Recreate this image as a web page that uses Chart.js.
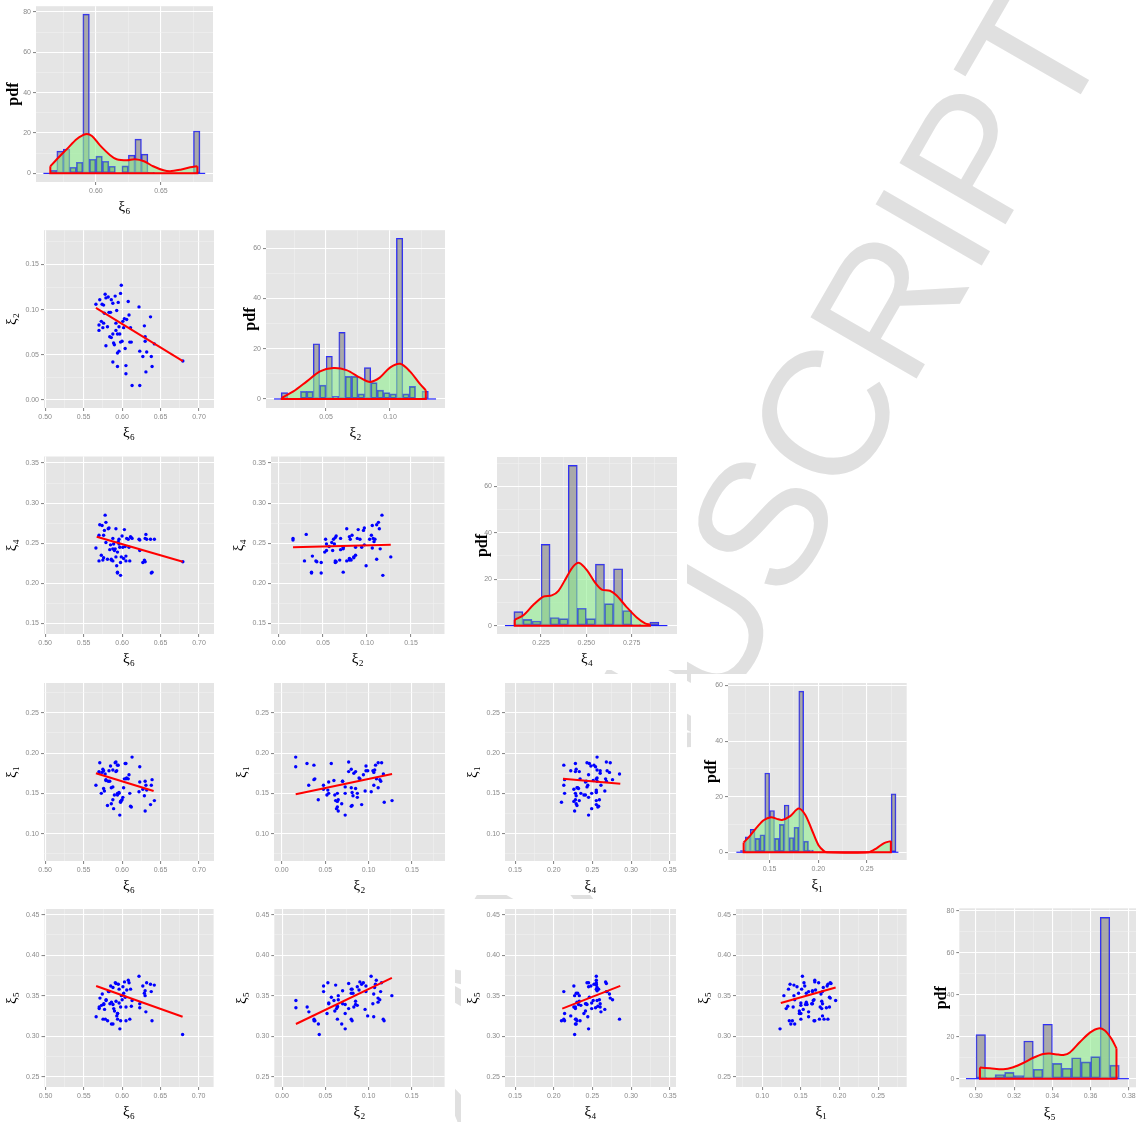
<!DOCTYPE html>
<html>
<head>
<meta charset="utf-8">
<script src="https://cdn.jsdelivr.net/npm/chart.js"></script>
<style>
  body { margin: 0; background: #fff; width: 1136px; height: 1122px; overflow: hidden; position: relative; }
  canvas { position: absolute; background: #fff; }
  #wm { position: absolute; left: 0; top: 0; }
</style>
</head>
<body>
<svg id="wm" width="1136" height="1122">
  <text x="1112" y="40" transform="rotate(-60 1112 40)" text-anchor="end"
        font-family="Liberation Sans, Arial, sans-serif" font-size="178" fill="#E0E0E0">ACCEPTED MANUSCRIPT</text>
</svg>
<script>
// samples (one value per sample and parameter), null = not plotted
const xi6 = [0.566, 0.571, 0.574, 0.576, 0.578, 0.579, 0.582, 0.586, 0.588, 0.591, 0.595, 0.599, 0.598, 0.608, 0.622,
  0.570, 0.570, 0.573, 0.575, 0.576, 0.577, 0.581, 0.583, 0.584, 0.586, 0.588, 0.589, 0.590, 0.592, 0.593,
  0.594, 0.596, 0.597, 0.598, 0.600, 0.601, 0.602, 0.603, 0.606, 0.609, 0.611, 0.610, 0.612, 0.579, 0.588,
  0.594, 0.596, 0.594, 0.604, 0.605, 0.605, 0.613, 0.623, 0.623, 0.627, 0.629, 0.630, 0.630, 0.632, 0.631,
  0.637, 0.638, 0.639, 0.642, 0.679, 0.585, 0.592];
const xi2 = [0.106, 0.111, 0.106, 0.105, 0.117, 0.113, 0.114, 0.111, 0.107, 0.115, 0.108, 0.127, 0.118, 0.109, 0.103,
  0.083, 0.077, 0.087, 0.080, 0.085, 0.096, 0.081, 0.097, 0.070, 0.069, 0.073, 0.063, 0.061, 0.077, 0.099,
  0.073, 0.081, 0.073, 0.064, 0.065, 0.087, 0.080, 0.090, 0.089, 0.094, 0.080, 0.064, 0.064, 0.060, 0.042,
  0.052, 0.054, 0.037, 0.057, 0.038, 0.029, 0.016, 0.016, 0.054, 0.048, 0.082, 0.070, 0.065, 0.053, 0.031,
  0.092, 0.048, 0.037, 0.062, 0.043, 0.097, 0.085];
const xi4 = [0.244, 0.273, 0.272, 0.260, 0.285, 0.276, 0.268, 0.230, 0.256, 0.243, 0.252, 0.233, 0.210, 0.255, 0.255,
  0.260, 0.228, 0.235, 0.229, 0.232, 0.266, 0.230, 0.269, 0.242, 0.229, 0.243, 0.249, 0.241, 0.268, 0.222,
  0.214, 0.255, 0.245, 0.226, 0.259, 0.245, 0.231, 0.267, 0.256, 0.245, 0.258, 0.228, 0.257, 0.251, 0.228,
  0.239, 0.249, 0.213, 0.246, 0.234, 0.228, 0.256, 0.254, 0.241, 0.226, 0.229, 0.256, 0.227, 0.255, 0.261,
  0.255, 0.213, 0.214, 0.255, 0.227, 0.248, 0.233];
const xi1 = [0.160, 0.188, 0.176, 0.178, 0.174, 0.167, 0.165, 0.157, 0.179, 0.188, 0.185, 0.141, 0.139, 0.168, 0.152,
  0.175, 0.177, 0.150, 0.180, 0.156, 0.153, 0.135, 0.178, 0.165, 0.137, 0.158, 0.131, 0.148, 0.189, 0.178,
  0.150, 0.151, 0.123, 0.140, 0.142, 0.145, 0.157, 0.168, 0.169, 0.173, 0.134, 0.150, 0.133, 0.166, 0.142,
  0.148, 0.150, 0.185, 0.187, 0.168, 0.187, 0.195, 0.183, 0.164, 0.155, 0.147, 0.165, 0.128, 0.154, 0.160,
  0.136, 0.160, 0.167, 0.141, null, 0.184, 0.177];
const xi5 = [0.324, 0.347, 0.352, 0.340, 0.321, 0.345, 0.355, 0.342, 0.360, 0.366, 0.364, 0.350, 0.319, 0.369, 0.374,
  0.336, 0.334, 0.338, 0.321, 0.339, 0.333, 0.319, 0.355, 0.340, 0.315, 0.339, 0.334, 0.331, 0.365, 0.325,
  0.328, 0.358, 0.309, 0.336, 0.345, 0.361, 0.353, 0.367, 0.357, 0.366, 0.358, 0.321, 0.337, 0.344, 0.315,
  0.328, 0.341, 0.321, 0.348, 0.319, 0.336, 0.344, 0.335, 0.340, 0.362, 0.353, 0.356, 0.350, 0.366, 0.330,
  0.364, 0.355, 0.319, 0.363, 0.302, 0.362, 0.343];

// fitted lines [x0, x1], [y0, y1]
const fit62x = [0.566, 0.679], fit62y = [0.102, 0.043];
const fit64x = [0.567, 0.679], fit64y = [0.258, 0.227];
const fit24x = [0.016, 0.127], fit24y = [0.245, 0.248];
const fit61x = [0.566, 0.641], fit61y = [0.175, 0.153];
const fit21x = [0.016, 0.127], fit21y = [0.149, 0.174];
const fit41x = [0.212, 0.286], fit41y = [0.168, 0.162];
const fit65x = [0.566, 0.679], fit65y = [0.362, 0.324];
const fit25x = [0.016, 0.127], fit25y = [0.315, 0.372];
const fit45x = [0.211, 0.286], fit45y = [0.334, 0.362];
const fit15x = [0.124, 0.195], fit15y = [0.341, 0.360];

// histograms: grey bins, green bins, density curve, baseline extent
const h6GreyX = [0.5725, 0.5775, 0.5925, 0.6275, 0.6325, 0.6375, 0.6775];
const h6GreyY = [11, 12, 79, 9, 17, 9.5, 21];
const h6GreenX = [0.5675, 0.5825, 0.5875, 0.5975, 0.6025, 0.6075, 0.6125, 0.6225, 0.6425];
const h6GreenY = [1.5, 3, 5.5, 7, 8.5, 6, 3.5, 3.7, 0.5];
const d6X = [0.565, 0.570, 0.5777, 0.5854, 0.592, 0.597, 0.603, 0.611, 0.616, 0.624, 0.630, 0.637, 0.644, 0.652, 0.657, 0.665, 0.6725, 0.678];
const d6Y = [3.5, 7, 12, 17, 19.4, 18.5, 14, 9, 7, 6.5, 7, 6, 3.5, 1.5, 1, 1.8, 3, 3.5];
const base6 = [0.5597, 0.684];

const h2GreyX = [0.0175, 0.0425, 0.0525, 0.0625, 0.0825, 0.1075, 0.1275];
const h2GreyY = [2.5, 22, 17, 26.5, 12.5, 64, 3];
const h2GreenX = [0.0325, 0.0375, 0.0475, 0.0575, 0.0675, 0.0725, 0.0775, 0.0875, 0.0925, 0.0975, 0.1025, 0.1125, 0.1175];
const h2GreenY = [3, 3, 5.5, 1, 9, 9, 2, 6.5, 3.5, 2.5, 2, 2, 5];
const d2X = [0.0154, 0.0245, 0.035, 0.0453, 0.0557, 0.066, 0.0766, 0.0844, 0.092, 0.100, 0.108, 0.1156, 0.1234, 0.128];
const d2Y = [0.5, 3, 7, 11, 12.3, 11.5, 8.5, 6.8, 8.5, 12.5, 14, 11, 6, 3.5];
const base2 = [0.0094, 0.136];

const h4GreyX = [0.2125, 0.2275, 0.2425, 0.2575, 0.2675, 0.2875];
const h4GreyY = [6, 35, 69, 26.5, 24.5, 1.5];
const h4GreenX = [0.2175, 0.2225, 0.2325, 0.2375, 0.2475, 0.2525, 0.2625, 0.2725, 0.2775];
const h4GreenY = [2.7, 2, 3.5, 3, 7.5, 3, 9.5, 6.5, 0.5];
const d4X = [0.2105, 0.2153, 0.2208, 0.2263, 0.2309, 0.2346, 0.2392, 0.2428, 0.2461, 0.2502, 0.2548, 0.2585, 0.263, 0.2667, 0.2722, 0.2778, 0.2824, 0.2851];
const d4Y = [2.5, 4.5, 9, 12.5, 13, 15, 21, 25.5, 27, 24, 18.5, 15.5, 15, 13, 8, 3.5, 1, 0.5];
const base4 = [0.2051, 0.2947];

const h1GreyX = [0.1275, 0.1325, 0.1475, 0.1525, 0.1675, 0.1825, 0.2775];
const h1GreyY = [5.5, 8.2, 28.5, 15, 17, 58, 21];
const h1GreenX = [0.1225, 0.1375, 0.1425, 0.1575, 0.1625, 0.1725, 0.1775, 0.1875, 0.1925];
const h1GreenY = [0.7, 5, 6.3, 5, 10, 5.3, 9, 4, 0.8];
const d1X = [0.1233, 0.130, 0.137, 0.1438, 0.1514, 0.1575, 0.1627, 0.1712, 0.1798, 0.1866, 0.1935, 0.2003, 0.2062, 0.209, 0.2517, 0.2603, 0.2678, 0.2747];
const d1Y = [3.5, 6, 9, 11.5, 12.6, 12, 11.6, 13, 15.7, 13.5, 8, 2.5, 0.3, 0, 0, 1.5, 3.3, 4];
const base1 = [0.1158, 0.2825];

const h5GreyX = [0.3025, 0.3275, 0.3375, 0.3675];
const h5GreyY = [21, 18, 26, 77];
const h5GreenX = [0.3075, 0.3125, 0.3175, 0.3225, 0.3325, 0.3425, 0.3475, 0.3525, 0.3575, 0.3625, 0.3725];
const h5GreenY = [0.5, 2, 3, 1.5, 4.5, 7.3, 5, 10, 8, 10.5, 6.5];
const d5X = [0.3021, 0.3073, 0.3143, 0.3195, 0.3247, 0.33, 0.3352, 0.3387, 0.343, 0.3457, 0.3491, 0.3544, 0.3596, 0.364, 0.3674, 0.3709, 0.3735];
const d5Y = [5.3, 5, 4.5, 5.5, 7.5, 10, 11.8, 12, 11.5, 11.3, 12.5, 17.5, 22, 24, 23, 19, 14.5];
const base5 = [0.2948, 0.38];

// tick labels
const ticks6 = ['0.50', '0.55', '0.60', '0.65', '0.70'];
const ticks2 = ['0.00', '0.05', '0.10', '0.15'];
const ticks4 = ['0.15', '0.20', '0.25', '0.30', '0.35'];
const ticks1 = ['0.10', '0.15', '0.20', '0.25'];
const ticks5 = ['0.25', '0.30', '0.35', '0.40', '0.45'];
const hTicks6 = ['0.60', '0.65'];
const hTicks2 = ['0.05', '0.10'];
const hTicks4 = ['0.225', '0.250', '0.275'];
const hTicks1 = ['0.15', '0.20', '0.25'];
const hTicks5 = ['0.30', '0.32', '0.34', '0.36', '0.38'];
const pdfTicks80 = ['0', '20', '40', '60', '80'];
const pdfTicks60 = ['0', '20', '40', '60'];

// panel geometry
const colL = [0, 229, 461, 691, 921];
const rowT = [0, 224, 449, 674, 899];
const SANS = '"Liberation Sans", Arial, sans-serif';
const SERIF = '"Liberation Serif", "DejaVu Serif", serif';

const bgPlugin = {
  id: 'panelBg',
  beforeDraw(chart) {
    const { ctx, chartArea: a } = chart;
    ctx.save();
    ctx.fillStyle = '#fff';
    ctx.fillRect(0, 0, chart.width, chart.height);
    ctx.fillStyle = '#E5E5E5';
    ctx.fillRect(a.left, a.top, a.right - a.left, a.bottom - a.top);
    ctx.restore();
  }
};

function minorsOf(major, lo, hi) {
  const step = major[1] - major[0];
  const out = [major[0] - step / 2];
  major.forEach(m => out.push(m + step / 2));
  return out.filter(v => v > lo && v < hi);
}

function axis(pos, lim, labels, title, boxSize, titlePad, bold) {
  const major = labels.map(Number);
  const all = major.filter(v => v >= lim[0] && v <= lim[1]).concat(minorsOf(major, lim[0], lim[1])).sort((a, b) => a - b);
  const isMajor = v => major.some(m => Math.abs(m - v) < 1e-9);
  const horiz = pos === 'bottom';
  return {
    type: 'linear', position: pos, min: lim[0], max: lim[1], offset: false,
    afterBuildTicks: s => { s.ticks = all.map(v => ({ value: v })); },
    afterFit: s => { if (horiz) s.height = boxSize; else s.width = boxSize; },
    border: { display: false },
    grid: {
      offset: false, drawTicks: true, tickLength: 3,
      color: c => (c.tick && isMajor(c.tick.value)) ? '#FFFFFF' : '#F2F2F2',
      lineWidth: c => (c.tick && isMajor(c.tick.value)) ? 1.1 : 0.5,
      tickColor: c => (c.tick && isMajor(c.tick.value)) ? '#8A8A8A' : 'rgba(0,0,0,0)'
    },
    ticks: {
      autoSkip: false, maxRotation: 0, minRotation: 0, padding: 2, color: '#8A8A8A',
      font: { family: SANS, size: 7 },
      callback: v => { const i = major.findIndex(m => Math.abs(m - v) < 1e-9); return i < 0 ? '' : labels[i]; }
    },
    title: {
      display: true, text: title, color: '#000',
      font: { family: SERIF, size: bold ? 16 : 15, weight: bold ? 'bold' : 'normal', lineHeight: 1 },
      padding: horiz ? { top: 0, bottom: 1 } : { top: titlePad, bottom: 0 }
    }
  };
}

function makeCanvas(col, row) {
  const c = document.createElement('canvas');
  const w = col === 4 ? 230 : 226, h = row === 4 ? 223 : 221;
  c.width = w; c.height = h;
  c.style.left = colL[col] + 'px'; c.style.top = rowT[row] + 'px';
  c.style.width = w + 'px'; c.style.height = h + 'px';
  document.body.appendChild(c);
  return { c, w, h };
}

function baseOptions(cv, col, row, plot, wy, scales) {
  return {
    responsive: false, animation: false, devicePixelRatio: 1, events: [],
    layout: {
      autoPadding: false,
      padding: {
        left: plot[0] - colL[col] - wy,
        top: plot[1] - rowT[row],
        right: colL[col] + cv.w - plot[2],
        bottom: rowT[row] + cv.h - plot[3] - 34
      }
    },
    plugins: { legend: { display: false }, tooltip: { enabled: false } },
    scales
  };
}

function scatterPanel(col, row, plot, xs, ys, xLim, yLim, xLabels, yLabels, xTitle, yTitle, fx, fy) {
  const cv = makeCanvas(col, row);
  const pts = [];
  xs.forEach((x, i) => { if (x !== null && ys[i] !== null) pts.push({ x, y: ys[i] }); });
  const wy = 40;
  new Chart(cv.c, {
    type: 'scatter',
    data: {
      datasets: [
        { data: [{ x: fx[0], y: fy[0] }, { x: fx[1], y: fy[1] }], showLine: true, borderColor: '#FF0000', borderWidth: 2, pointRadius: 0, order: 1 },
        { data: pts, pointRadius: 1.7, pointBackgroundColor: '#0000FF', pointBorderWidth: 0, order: 2 }
      ]
    },
    options: baseOptions(cv, col, row, plot, wy, {
      x: axis('bottom', xLim, xLabels, xTitle, 34),
      y: axis('left', yLim, yLabels, yTitle, wy, (wy - 32) - 7.5)
    }),
    plugins: [bgPlugin]
  });
}

function histPanel(col, row, plot, gx, gy, nx, ny, dx, dy, base, xLim, yLim, xLabels, yLabels, xTitle, pdfDist) {
  const cv = makeCanvas(col, row);
  const wy = 36;
  const curve = dx.map((x, i) => ({ x, y: dy[i] }));
  const last = dx.length - 1;
  const edges = [{ x: dx[last], y: dy[last] }, { x: dx[last], y: 0 }, { x: dx[0], y: 0 }, { x: dx[0], y: dy[0] }];
  const barStyle = { type: 'bar', grouped: false, barPercentage: 1, categoryPercentage: 1, borderWidth: 1, borderSkipped: false };
  new Chart(cv.c, {
    type: 'bar',
    data: {
      datasets: [
        { type: 'line', data: [{ x: base[0], y: 0 }, { x: base[1], y: 0 }], borderColor: '#0000FF', borderWidth: 1, pointRadius: 0, order: 6 },
        Object.assign({ data: gx.map((x, i) => ({ x, y: gy[i] })), backgroundColor: 'rgba(128,128,128,0.6)', borderColor: 'rgba(0,0,255,0.8)', order: 5 }, barStyle),
        { type: 'line', data: curve, borderWidth: 0, fill: 'origin', backgroundColor: 'rgba(144,238,144,0.6)', pointRadius: 0, tension: 0.3, order: 4 },
        Object.assign({ data: nx.map((x, i) => ({ x, y: ny[i] })), backgroundColor: 'rgba(0,100,0,0.25)', borderColor: 'rgba(0,0,255,0.55)', order: 3 }, barStyle),
        { type: 'line', data: edges, borderColor: '#FF0000', borderWidth: 2, pointRadius: 0, fill: false, order: 2 },
        { type: 'line', data: curve, borderColor: '#FF0000', borderWidth: 2, pointRadius: 0, fill: false, tension: 0.3, order: 1 }
      ]
    },
    options: baseOptions(cv, col, row, plot, wy, {
      x: axis('bottom', xLim, xLabels, xTitle, 34),
      y: axis('left', yLim, yLabels, 'pdf', wy, wy - pdfDist - 8, true)
    }),
    plugins: [bgPlugin]
  });
}

const lim6 = [0.4985, 0.7195], lim2 = [-0.009, 0.188], lim4 = [0.137, 0.358], lim1 = [0.066, 0.287], lim5 = [0.2372, 0.457];
const T6 = 'ξ₆', T2 = 'ξ₂', T4 = 'ξ₄', T1 = 'ξ₁', T5 = 'ξ₅';

// diagonal histograms
histPanel(0, 0, [36, 4, 213, 182], h6GreyX, h6GreyY, h6GreenX, h6GreenY, d6X, d6Y, base6, [0.554, 0.690], [-4.3, 82.9], hTicks6, pdfTicks80, T6, 22);
histPanel(1, 1, [266, 230, 445, 408], h2GreyX, h2GreyY, h2GreenX, h2GreenY, d2X, d2Y, base2, [0.0031, 0.143], [-3.6, 67.2], hTicks2, pdfTicks60, T2, 15.5);
histPanel(2, 2, [497, 457, 677, 634], h4GreyX, h4GreyY, h4GreenX, h4GreenY, d4X, d4Y, base4, [0.2007, 0.300], [-3.6, 72.6], hTicks4, pdfTicks60, T4, 14);
histPanel(3, 3, [728, 683, 906.7, 860], h1GreyX, h1GreyY, h1GreenX, h1GreenY, d1X, d1Y, base1, [0.1072, 0.291], [-2.8, 60.9], hTicks1, pdfTicks60, T1, 16);
histPanel(4, 4, [959.3, 908.3, 1140, 1087.3], h5GreyX, h5GreyY, h5GreenX, h5GreenY, d5X, d5Y, base5, [0.2913, 0.3858], [-4.1, 81.3], hTicks5, pdfTicks80, T5, 17);

// lower triangle scatter plots
scatterPanel(0, 1, [44, 230, 214, 408], xi6, xi2, lim6, lim2, ticks6, ticks2, T6, T2, fit62x, fit62y);
scatterPanel(0, 2, [44, 456.5, 214, 634], xi6, xi4, lim6, lim4, ticks6, ticks4, T6, T4, fit64x, fit64y);
scatterPanel(1, 2, [271, 456.5, 444.5, 634], xi2, xi4, lim2, lim4, ticks2, ticks4, T2, T4, fit24x, fit24y);
scatterPanel(0, 3, [44, 683, 214, 861], xi6, xi1, lim6, lim1, ticks6, ticks1, T6, T1, fit61x, fit61y);
scatterPanel(1, 3, [274, 683, 445, 861], xi2, xi1, lim2, lim1, ticks2, ticks1, T2, T1, fit21x, fit21y);
scatterPanel(2, 3, [505, 683, 676, 861], xi4, xi1, lim4, lim1, ticks4, ticks1, T4, T1, fit41x, fit41y);
scatterPanel(0, 4, [44.5, 909, 213.6, 1087], xi6, xi5, lim6, lim5, ticks6, ticks5, T6, T5, fit65x, fit65y);
scatterPanel(1, 4, [274.3, 909, 444.6, 1087], xi2, xi5, lim2, lim5, ticks2, ticks5, T2, T5, fit25x, fit25y);
scatterPanel(2, 4, [505, 909, 676, 1087], xi4, xi5, lim4, lim5, ticks4, ticks5, T4, T5, fit45x, fit45y);
scatterPanel(3, 4, [736, 909, 906.7, 1087], xi1, xi5, lim1, lim5, ticks1, ticks5, T1, T5, fit15x, fit15y);
</script>
</body>
</html>
